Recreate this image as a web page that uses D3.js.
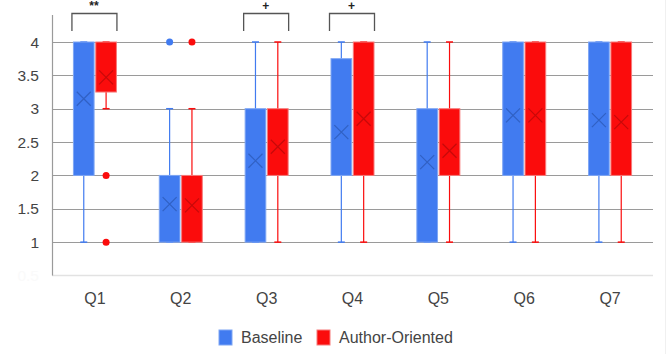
<!doctype html>
<html>
<head>
<meta charset="UTF-8">
<title>Box plot</title>
<script src="https://d3js.org/d3.v7.min.js"></script>
<style>
  body { margin: 0; background: #fff; }
  text { font-family: "Liberation Sans", Arial, sans-serif; }
</style>
</head>
<body>
<svg id="chart" width="671" height="354"></svg>
<script>
// data
var questions = ["Q1", "Q2", "Q3", "Q4", "Q5", "Q6", "Q7"];
var seriesNames = ["Baseline", "Author-Oriented"];
var yTicks = [1, 1.5, 2, 2.5, 3, 3.5, 4];

var baseLow = [1, 1, 1, 1, 1, 1, 1];
var baseQ1 = [2, 1, 1, 2, 1, 2, 2];
var baseQ3 = [4, 2, 3, 3.75, 3, 4, 4];
var baseHigh = [4, 3, 4, 4, 4, 4, 4];
var baseMean = [3.15, 1.57, 2.22, 2.65, 2.2, 2.9, 2.83];
var baseOutliers = [[], [4], [], [], [], [], []];

var authLow = [3, 1, 1, 1, 1, 1, 1];
var authQ1 = [3.25, 1, 2, 2, 2, 2, 2];
var authQ3 = [4, 2, 3, 4, 3, 4, 4];
var authHigh = [4, 3, 4, 4, 4, 4, 4];
var authMean = [3.47, 1.55, 2.43, 2.85, 2.37, 2.9, 2.8];
var authOutliers = [[2, 1], [4], [], [], [], [], []];

var sigLabels = ["**", "", "+", "+", "", "", ""];

var fills = ["#417bf0", "#fb0c0c"];
var strokes = ["#7ea6f4", "#f67a7a"];
var darks = ["#2a55b0", "#b00808"];

var svg = d3.select("#chart");

var x = d3.scaleBand().domain(questions).range([52, 653]);
var y = d3.scaleLinear().domain([0.5, 4]).range([275.5, 42]);
var sub = d3.scaleBand().domain(seriesNames).range([-22, 22]).paddingInner(0.03);

// build a row per box from the arrays
var boxes = [];
questions.forEach(function (q, i) {
  boxes.push({ q: q, s: seriesNames[0], low: baseLow[i], q1: baseQ1[i], q3: baseQ3[i], high: baseHigh[i], mean: baseMean[i], out: baseOutliers[i], k: 0 });
  boxes.push({ q: q, s: seriesNames[1], low: authLow[i], q1: authQ1[i], q3: authQ3[i], high: authHigh[i], mean: authMean[i], out: authOutliers[i], k: 1 });
});

// gridlines
svg.append("g").selectAll("line")
  .data(yTicks)
  .enter().append("line")
  .attr("x1", 52).attr("x2", 653)
  .attr("y1", function (d) { return Math.round(y(d)) + 0.5; })
  .attr("y2", function (d) { return Math.round(y(d)) + 0.5; })
  .attr("stroke", "#9a9a9a").attr("stroke-width", 1.2);

svg.append("line")
  .attr("x1", 52).attr("x2", 653)
  .attr("y1", y(0.5)).attr("y2", y(0.5))
  .attr("stroke", "#e2e2e2").attr("stroke-width", 1.5);

svg.append("line")
  .attr("x1", 52.5).attr("x2", 52.5)
  .attr("y1", 15).attr("y2", y(0.5))
  .attr("stroke", "#9a9a9a").attr("stroke-width", 1.2);

svg.append("line")
  .attr("x1", 665.5).attr("x2", 665.5)
  .attr("y1", 0).attr("y2", 354)
  .attr("stroke", "#f0f0f0");

// y labels
svg.append("g").selectAll("text")
  .data(yTicks)
  .enter().append("text")
  .attr("x", 39)
  .attr("y", function (d) { return y(d); })
  .attr("dy", "0.36em")
  .attr("text-anchor", "end")
  .style("font-size", "15.5px")
  .style("fill", "#444")
  .text(function (d) { return d; });

svg.append("text")
  .attr("x", 39).attr("y", y(0.5)).attr("dy", "0.36em")
  .attr("text-anchor", "end")
  .style("font-size", "15.5px").style("fill", "#fafafa")
  .text("0.5");

// x labels
svg.append("g").selectAll("text")
  .data(questions)
  .enter().append("text")
  .attr("x", function (d) { return x(d) + x.bandwidth() / 2; })
  .attr("y", 304)
  .attr("text-anchor", "middle")
  .style("font-size", "16px")
  .style("fill", "#444")
  .text(function (d) { return d; });

var g = svg.append("g").selectAll("g")
  .data(boxes)
  .enter().append("g")
  .attr("transform", function (d) {
    return "translate(" + (x(d.q) + x.bandwidth() / 2 + sub(d.s)) + ",0)";
  });

var bw = sub.bandwidth();

// whiskers
g.append("line")
  .attr("x1", bw / 2).attr("x2", bw / 2)
  .attr("y1", function (d) { return y(d.low); })
  .attr("y2", function (d) { return y(d.high); })
  .attr("stroke", function (d) { return fills[d.k]; })
  .attr("stroke-width", 1.2);

g.each(function (d) {
  var el = d3.select(this);
  [d.low, d.high].forEach(function (v) {
    el.append("line")
      .attr("x1", bw / 2 - 3.5).attr("x2", bw / 2 + 3.5)
      .attr("y1", y(v)).attr("y2", y(v))
      .attr("stroke", fills[d.k]).attr("stroke-width", 1.5);
  });
});

// boxes
g.append("rect")
  .attr("x", 0.5)
  .attr("width", bw - 1)
  .attr("y", function (d) { return y(d.q3); })
  .attr("height", function (d) { return y(d.q1) - y(d.q3); })
  .attr("fill", function (d) { return fills[d.k]; })
  .attr("stroke", function (d) { return strokes[d.k]; })
  .attr("stroke-width", 1);

// mean marks
g.append("path")
  .attr("d", function (d) {
    var cx = bw / 2, cy = y(d.mean), r = 7;
    return "M" + (cx - r) + "," + (cy - r) + "L" + (cx + r) + "," + (cy + r) +
      "M" + (cx - r) + "," + (cy + r) + "L" + (cx + r) + "," + (cy - r);
  })
  .attr("stroke", function (d) { return darks[d.k]; })
  .attr("stroke-opacity", 0.7)
  .attr("stroke-width", 1.2)
  .attr("fill", "none");

// outliers
g.selectAll("circle")
  .data(function (d) { return d.out.map(function (v) { return { v: v, k: d.k }; }); })
  .enter().append("circle")
  .attr("cx", bw / 2)
  .attr("cy", function (d) { return y(d.v); })
  .attr("r", 3.5)
  .attr("fill", function (d) { return fills[d.k]; });

// significance brackets
var sig = svg.append("g").selectAll("g")
  .data(questions.filter(function (q, i) { return sigLabels[i] !== ""; }))
  .enter().append("g");

sig.append("path")
  .attr("d", function (q) {
    var x0 = x(q) + x.bandwidth() / 2 - 23, x1 = x(q) + x.bandwidth() / 2 + 22;
    return "M" + x0 + ",31V13.5H" + x1 + "V31";
  })
  .attr("fill", "none")
  .attr("stroke", "#555")
  .attr("stroke-width", 1.3);

sig.append("text")
  .attr("x", function (q) { return x(q) + x.bandwidth() / 2 - 1; })
  .attr("y", 10)
  .attr("text-anchor", "middle")
  .style("font-size", "12px")
  .style("font-weight", "bold")
  .style("fill", "#222")
  .text(function (q) { return sigLabels[questions.indexOf(q)]; });

// legend
var leg = svg.append("g").selectAll("g")
  .data(seriesNames)
  .enter().append("g")
  .attr("transform", function (d, i) { return "translate(" + [219, 317][i] + ",0)"; });

leg.append("rect")
  .attr("x", 0).attr("y", 330)
  .attr("width", 13).attr("height", 15)
  .attr("fill", function (d, i) { return fills[i]; })
  .attr("stroke", function (d, i) { return strokes[i]; });

leg.append("text")
  .attr("x", 22).attr("y", 343)
  .style("font-size", "16px")
  .style("fill", "#444")
  .text(function (d) { return d; });
</script>
</body>
</html>
